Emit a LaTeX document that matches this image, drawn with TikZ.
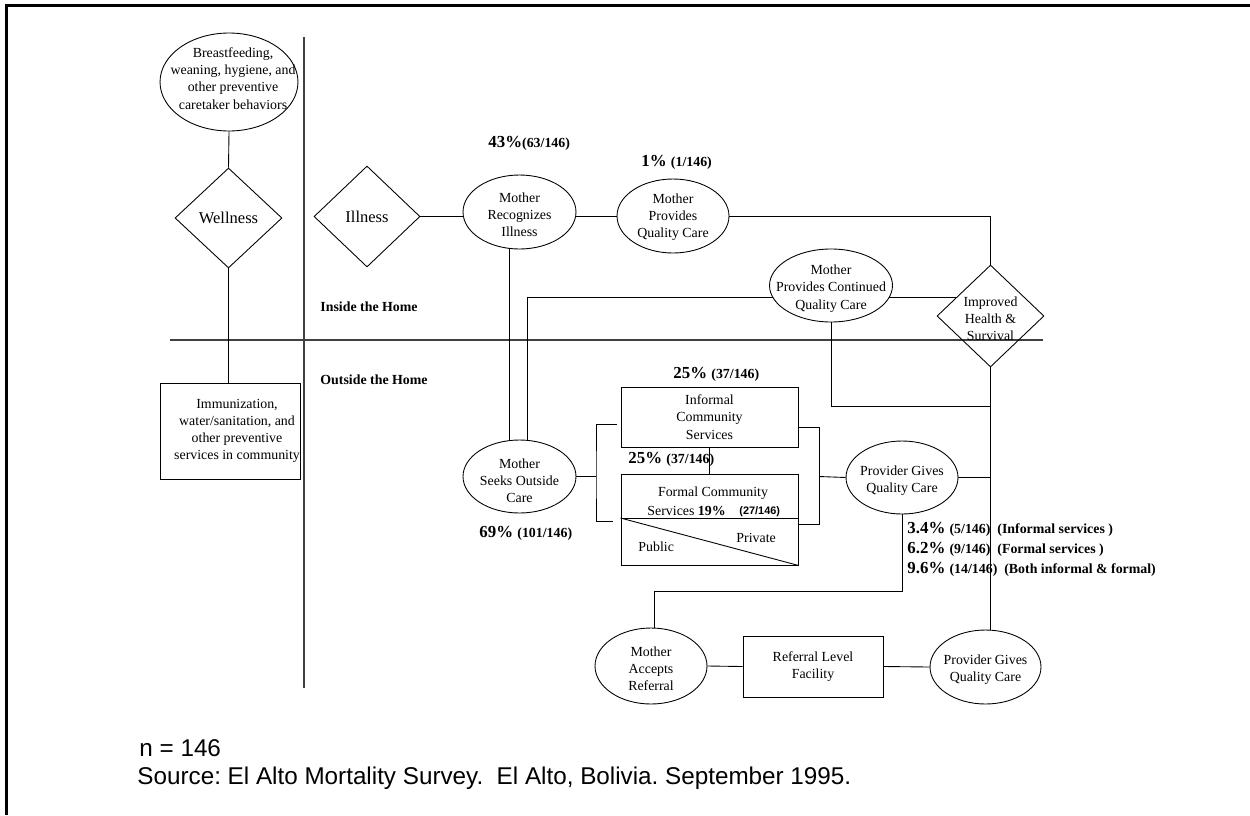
\documentclass[tikz,border=0pt]{standalone}
\usepackage{fontspec}
\setmainfont{Liberation Serif}
\newfontfamily\arialfont{Liberation Sans}
\usetikzlibrary{shapes.geometric,calc}
\newcommand\mysmall{\fontsize{7.9}{9.8}\selectfont}
\newcommand\mybig{\fontsize{9.4}{11}\selectfont}
\newcommand\mypc{\fontsize{9.6}{11}\selectfont\bfseries}
\newcommand\mypp{\fontsize{7.9}{9.8}\selectfont\bfseries}
\frenchspacing
\begin{document}
\begin{tikzpicture}[x=0.02cm, y=-0.02cm, line width=0.5pt,
  ell/.style={draw, ellipse, inner sep=0pt},
  dia/.style={draw, diamond, inner sep=0pt, align=center},
  box/.style={draw, rectangle, inner sep=0pt, align=center, font=\mysmall},
  lab/.style={align=center, inner sep=0pt, font=\mysmall},
  txt/.style={anchor=west, inner sep=0pt},
  divider/.style={draw=black!75, line width=0.65pt},
  frameline/.style={line width=1.5pt}]
\useasboundingbox (0,0) rectangle (1250,815);

% frame and dividers
\draw[frameline] (5,5.5) -- (1250,5.5);
\draw[frameline] (6.3,5) -- (6.3,815);
\draw[divider] (304,37) -- (304,688);
\draw[divider] (170,340) -- (1043,340);

% shapes
\node[ell, minimum width=2.76cm, minimum height=1.96cm,
  label={[lab,name=bft,xshift=2.3pt,yshift=2pt]center:Breastfeeding,\\weaning, hygiene, and\\other preventive\\caretaker behaviors}] (bf) at (229,82) {};
\node[dia, minimum width=2.14cm, minimum height=2.0cm, font=\mybig] (well) at (228.5,218) {Wellness};
\node[box, minimum width=2.8cm, minimum height=1.92cm] (imm) at (230,431) {\hspace*{8pt}Immunization,\\\hspace*{8pt}water/sanitation, and\\\hspace*{8pt}other preventive\\\hspace*{8pt}services in community};
\node[dia, minimum width=2.12cm, minimum height=2.02cm, font=\mybig] (ill) at (367,216.5) {Illness};
\node[ell, minimum width=2.26cm, minimum height=1.48cm,
  label={[lab,name=mrt,yshift=-1.7pt]center:Mother\\Recognizes\\Illness}] (mr) at (519.5,212) {};
\node[ell, minimum width=2.24cm, minimum height=1.48cm,
  label={[lab,name=mpqct,yshift=-0.6pt]center:Mother\\Provides\\Quality Care}] (mpqc) at (673,216) {};
\node[ell, minimum width=2.46cm, minimum height=1.46cm,
  label={[lab,name=mpcct,yshift=-1.7pt]center:Mother\\Provides Continued\\Quality Care}] (mpcc) at (831,285.5) {};
\node[dia, minimum width=2.14cm, minimum height=2.04cm,
  label={[lab,name=impt,yshift=-1.6pt]center:Improved\\Health \&\\Survival}] (imp) at (990.5,316) {};
\node[ell, minimum width=2.26cm, minimum height=1.46cm,
  label={[lab,name=msoct,yshift=-2.5pt]center:Mother\\Seeks Outside\\Care}] (msoc) at (519.5,476.5) {};
\node[box, minimum width=3.54cm, minimum height=1.2cm] (inf) at (709.5,417) {Informal\\Community\\Services};
\node[box, minimum width=3.54cm, minimum height=1.82cm] (formal) at (709.5,519.5) {};
\node[ell, minimum width=2.24cm, minimum height=1.46cm,
  label={[lab,name=pgqct,yshift=-2pt]center:Provider Gives\\Quality Care}] (pgqc) at (902,477.5) {};
\node[ell, minimum width=2.24cm, minimum height=1.52cm,
  label={[lab,name=mart,yshift=-1.7pt]center:Mother\\Accepts\\Referral}] (mar) at (651,666) {};
\node[box, minimum width=2.8cm, minimum height=1.22cm] (ref) at (813,666.5) {Referral Level\\Facility};
\node[ell, minimum width=2.22cm, minimum height=1.48cm,
  label={[lab,name=pgqc2t,yshift=-1.7pt]center:Provider Gives\\Quality Care}] (pgqc2) at (985.5,667) {};

% formal box interior
\coordinate (fmid) at ($(formal.north west)!0.484!(formal.south west)$);
\draw (fmid) -- (fmid -| formal.east);
\draw (fmid) -- (formal.south east);
\node[lab] (fct1) at (713,493) {Formal Community};
\node[txt, font=\mysmall] (fct2) at (647,511) {Services \textbf{19\%}};
\node[txt] (fct3) at (739,511.5) {\arialfont\bfseries\fontsize{6.2}{7}\selectfont (27/146)};
\node[txt, font=\mysmall] (pub) at (638,547) {Public};
\node[txt, font=\mysmall] (priv) at (736,538) {Private};

% connectors
\draw (bf.south) -- (well.north);
\draw (well.south) -- (well.south |- imm.north);
\draw (ill.east) -- (ill.east -| mr.west);
\draw (mr.east |- mpqc.west) -- (mpqc.west);
\draw (mpqc.east) -| (imp.north);
\draw (mr.255) -- (mr.255 |- msoc.105);
\draw (mpcc.192) -| (msoc.77);
\draw (mpcc.348) -- (mpcc.348 -| imp.150);
\path (imp.south) ++(0,39) coordinate (j1);
\draw (mpcc.south) |- (j1);
\draw (imp.south) -- (imp.south |- pgqc2.north);
\draw (pgqc.east) -- (pgqc.east -| imp.south);
\coordinate (lb) at (596,476.5);
\coordinate (rb) at (819,476.5);
\draw (msoc.east) -- (lb);
\draw ($(inf.west)+(-4,7)$) -| (lb) |- ($(formal.west)+(-8,1.5)$);
\draw ($(inf.east)+(0,10)$) -| (rb) |- ($(formal.east)+(0,4.5)$);
\draw (rb) -- (pgqc.west);
\draw (inf.south) -- (formal.north);
\path (pgqc.south) ++(0,77) coordinate (j2);
\draw (pgqc.south) -- (j2) -| (mar.85);
\draw (mar.east) -- (ref.west);
\draw (ref.east) -- (pgqc2.west);

% percentages
\node[txt] (p43) at (488,143) {\mypc 43\%\mypp(63/146)};
\node[txt] (p1) at (641,162) {\mypc 1\% \mypp(1/146)};
\node[txt] (p25a) at (673,374) {\mypc 25\% \mypp(37/146)};
\node[txt] (p25b) at (628,459) {\mypc 25\% \mypp(37/146)};
\node[txt] (p69) at (479,533) {\mypc 69\% \mypp(101/146)};
\node[txt] (r1) at (907,529) {\mypc 3.4\% \mypp(5/146)\ \ (Informal services )};
\node[txt] (r2) at (907,549) {\mypc 6.2\% \mypp(9/146)\ \ (Formal services )};
\node[txt] (r3) at (907,569) {\mypc 9.6\% \mypp(14/146)\ \ (Both informal \& formal)};

% region labels
\node[txt, font=\mypp] (inside) at (320,307) {Inside the Home};
\node[txt, font=\mypp] (outside) at (320,380) {Outside the Home};

% notes
\node[txt, font=\arialfont\fontsize{13.8}{16}\selectfont] (n146) at (139,748) {n = 146};
\node[txt, font=\arialfont\fontsize{13.8}{16}\selectfont] (src) at (137,778) {Source: El Alto Mortality Survey.\ \ El Alto, Bolivia. September 1995.};
\end{tikzpicture}
\end{document}
